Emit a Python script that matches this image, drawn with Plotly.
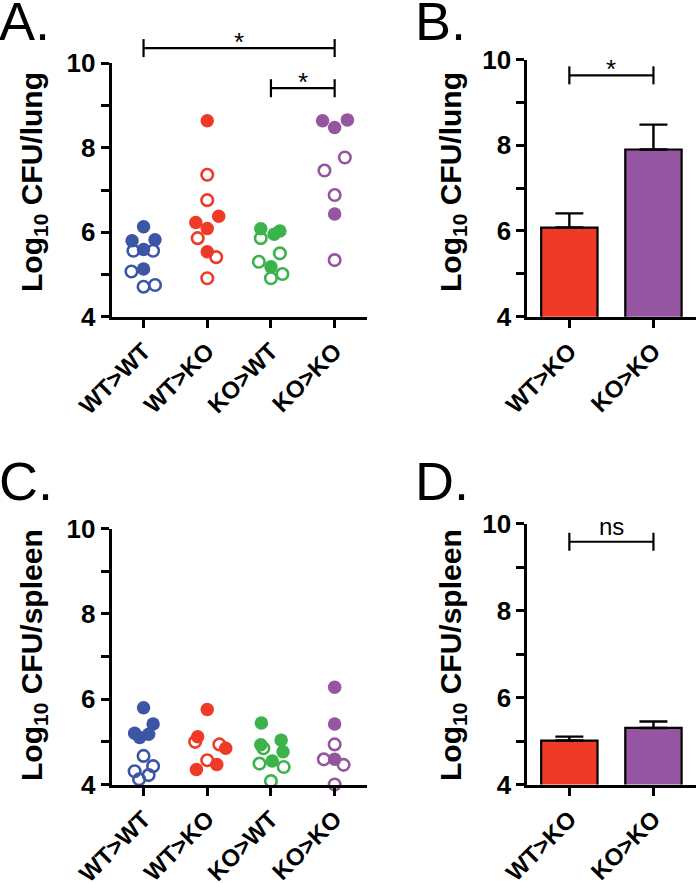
import plotly.graph_objects as go

W, H = 700, 883

# ---------------- data ----------------
groups = ["WT>WT", "WT>KO", "KO>WT", "KO>KO"]
bar_groups = ["WT>KO", "KO>KO"]

colors = {"WT>WT": "#3D55A5", "WT>KO": "#EE3A26", "KO>WT": "#3BB34A", "KO>KO": "#9655A0"}

# Panel A: lung CFU (log10), filled flag (1 = filled, 0 = open), horizontal spread in the dot column
lung_WTWT = [6.13, 5.80, 5.82, 5.59, 5.56, 5.56, 5.13, 5.07, 4.71, 4.75]
lung_WTWT_filled = [1, 1, 1, 1, 0, 0, 1, 0, 0, 0]
lung_WTWT_jit = [0.0, -0.18, 0.18, 0.0, -0.16, 0.15, 0.0, -0.19, 0.0, 0.18]

lung_WTKO = [8.64, 7.36, 6.76, 6.38, 6.23, 6.09, 5.86, 5.54, 5.41, 4.91]
lung_WTKO_filled = [1, 0, 0, 1, 1, 1, 0, 1, 0, 0]
lung_WTKO_jit = [0.0, 0.0, 0.0, 0.18, -0.18, 0.0, -0.15, 0.0, 0.14, 0.0]

lung_KOWT = [6.08, 6.03, 5.95, 5.86, 5.50, 5.30, 5.18, 5.01, 4.91]
lung_KOWT_filled = [1, 1, 1, 0, 0, 0, 1, 0, 0]
lung_KOWT_jit = [-0.16, 0.14, 0.05, -0.16, 0.14, -0.19, 0.0, 0.18, 0.0]

lung_KOKO = [8.64, 8.66, 8.48, 7.77, 7.46, 6.88, 6.43, 5.34]
lung_KOKO_filled = [1, 1, 1, 0, 0, 0, 1, 0]
lung_KOKO_jit = [-0.19, 0.20, 0.0, 0.16, -0.16, 0.0, 0.0, 0.0]

# Panel C: spleen CFU (log10)
spl_WTWT = [5.80, 5.42, 5.20, 5.18, 5.10, 4.67, 4.43, 4.31, 4.22, 4.12]
spl_WTWT_filled = [1, 1, 1, 1, 1, 0, 0, 0, 0, 0]
spl_WTWT_jit = [0.0, 0.15, -0.14, 0.08, -0.06, 0.0, 0.15, -0.14, 0.08, -0.07]

spl_WTKO = [5.76, 5.12, 5.00, 4.94, 4.85, 4.57, 4.47, 4.35]
spl_WTKO_filled = [1, 1, 0, 0, 1, 0, 1, 1]
spl_WTKO_jit = [0.0, -0.15, -0.19, 0.19, 0.29, 0.0, 0.15, -0.17]

spl_KOWT = [5.44, 5.04, 4.93, 4.85, 4.77, 4.55, 4.49, 4.41, 4.08]
spl_KOWT_filled = [1, 1, 1, 0, 1, 1, 0, 0, 0]
spl_KOWT_jit = [-0.15, 0.16, -0.16, -0.12, 0.19, 0.02, -0.18, 0.2, 0.0]

spl_KOKO = [6.28, 5.42, 4.94, 4.59, 4.59, 4.46, 4.00]
spl_KOKO_filled = [1, 1, 0, 0, 1, 0, 0]
spl_KOKO_jit = [0.0, 0.0, 0.0, -0.17, 0.0, 0.14, 0.0]

# Panel B / D: means and SEM
lung_mean = [6.08, 7.90]
lung_sem = [0.33, 0.58]
spl_mean = [5.01, 5.30]
spl_sem = [0.09, 0.15]

y_ticks = [4, 6, 8, 10]
y_minor_ticks = [5, 7, 9]

# significance brackets: (panel, from, to, level, label)
brackets = [
    ("A", 0, 3, 10.36, "*"),
    ("A", 2, 3, 9.41, "*"),
    ("B", 0, 1, 9.63, "*"),
    ("D", 0, 1, 9.58, "ns"),
]

# ---------------- layout geometry ----------------
def px_x(p):
    return p / W

def px_y(p):
    return 1 - p / H

dom = {
    "A": dict(x=[px_x(111.7), px_x(366.5)], y=[px_y(316.7), px_y(63.3)]),
    "B": dict(x=[px_x(527.3), px_x(695.5)], y=[px_y(316.7), px_y(59.5)]),
    "C": dict(x=[px_x(111.7), px_x(366.5)], y=[px_y(784.5), px_y(528.5)]),
    "D": dict(x=[px_x(527.3), px_x(695.5)], y=[px_y(784.5), px_y(523.5)]),
}
axid = {"A": ("x", "y"), "B": ("x2", "y2"), "C": ("x3", "y3"), "D": ("x4", "y4")}
xrng = {"A": [-0.5, 3.5], "B": [-0.5, 1.5], "C": [-0.5, 3.5], "D": [-0.5, 1.5]}

FONT = "Liberation Sans, Arial, Helvetica, sans-serif"

fig = go.Figure()

def dots(panel, series):
    xa, ya = axid[panel]
    for gi, (g, vals, filled, jit) in enumerate(series):
        xs = [gi + j for j in jit]
        open_x = [x for x, f in zip(xs, filled) if not f]
        open_y = [v for v, f in zip(vals, filled) if not f]
        fill_x = [x for x, f in zip(xs, filled) if f]
        fill_y = [v for v, f in zip(vals, filled) if f]
        fig.add_trace(go.Scatter(
            x=fill_x, y=fill_y, mode="markers", xaxis=xa, yaxis=ya,
            marker=dict(symbol="circle", size=13.5, color=colors[g], line=dict(width=0)),
            showlegend=False, cliponaxis=False))
        fig.add_trace(go.Scatter(
            x=open_x, y=open_y, mode="markers", xaxis=xa, yaxis=ya,
            marker=dict(symbol="circle-open", size=11.5, color=colors[g],
                        line=dict(width=2.6, color=colors[g])),
            showlegend=False, cliponaxis=False))

dots("A", [
    ("WT>WT", lung_WTWT, lung_WTWT_filled, lung_WTWT_jit),
    ("WT>KO", lung_WTKO, lung_WTKO_filled, lung_WTKO_jit),
    ("KO>WT", lung_KOWT, lung_KOWT_filled, lung_KOWT_jit),
    ("KO>KO", lung_KOKO, lung_KOKO_filled, lung_KOKO_jit),
])
dots("C", [
    ("WT>WT", spl_WTWT, spl_WTWT_filled, spl_WTWT_jit),
    ("WT>KO", spl_WTKO, spl_WTKO_filled, spl_WTKO_jit),
    ("KO>WT", spl_KOWT, spl_KOWT_filled, spl_KOWT_jit),
    ("KO>KO", spl_KOKO, spl_KOKO_filled, spl_KOKO_jit),
])

def bars(panel, means, sems):
    xa, ya = axid[panel]
    fig.add_trace(go.Bar(
        x=list(range(len(bar_groups))), y=means, xaxis=xa, yaxis=ya, width=0.67,
        marker=dict(color=[colors[g] for g in bar_groups], line=dict(color="black", width=2.2)),
        error_y=dict(type="data", symmetric=False, array=sems, arrayminus=[0] * len(sems),
                     color="black", thickness=2.4, width=14),
        showlegend=False))

bars("B", lung_mean, lung_sem)
bars("D", spl_mean, spl_sem)

layout = dict(
    width=W, height=H, margin=dict(l=0, r=0, t=0, b=0, pad=0, autoexpand=False),
    paper_bgcolor="white", plot_bgcolor="white",
    font=dict(family=FONT, color="black"),
    bargap=0.3,
)

for p in ["A", "B", "C", "D"]:
    xa, ya = axid[p]
    xkey = "xaxis" + xa[1:]
    ykey = "yaxis" + ya[1:]
    cats = groups if p in ("A", "C") else bar_groups
    layout[xkey] = dict(
        domain=dom[p]["x"], anchor=ya, range=xrng[p], automargin=False,
        tickmode="array", tickvals=list(range(len(cats))), ticktext=cats,
        tickangle=-45, showline=True, linewidth=3, linecolor="black",
        ticks="outside", ticklen=8, tickwidth=3, tickcolor="black",
        showgrid=False, zeroline=False, fixedrange=True,
        tickfont=dict(family=FONT, size=24, color="black", weight="bold"),
    )
    layout[ykey] = dict(
        domain=dom[p]["y"], anchor=xa, range=[4, 10], automargin=False,
        tickmode="array", tickvals=y_ticks,
        showline=True, linewidth=3, linecolor="black",
        ticks="outside", ticklen=8, tickwidth=3, tickcolor="black",
        minor=dict(tickmode="array", tickvals=y_minor_ticks, ticks="outside",
                   ticklen=8, tickwidth=3, tickcolor="black", showgrid=False),
        showgrid=False, zeroline=False, fixedrange=True,
        tickfont=dict(family=FONT, size=26, color="black", weight="bold"),
    )

fig.update_layout(**layout)

annotations = []
shapes = []

# panel letters
letters = {"A": (-3, -11), "B": (413, -11), "C": (-3, 449), "D": (413, 449)}
for k, (lx, ly) in letters.items():
    annotations.append(dict(text=k + ".", x=px_x(lx), y=px_y(ly), xref="paper", yref="paper",
                            xanchor="left", yanchor="top", showarrow=False,
                            font=dict(family=FONT, size=54, color="black")))

# y-axis titles (centre in px)
ytitles = {"A": "lung", "B": "lung", "C": "spleen", "D": "spleen"}
ytpos = {"A": (33, 182), "B": (452, 182), "C": (33, 655), "D": (452, 655)}
for p, organ in ytitles.items():
    tx, ty = ytpos[p]
    annotations.append(dict(text="<b>Log<sub>10</sub> CFU/" + organ + "</b>",
                            x=px_x(tx), y=px_y(ty), xref="paper", yref="paper",
                            xanchor="center", yanchor="middle", textangle=-90, showarrow=False,
                            font=dict(family=FONT, size=30, color="black")))

# significance brackets (in axis-domain units so they can sit above the axes)
for p, a, b, lvl, lab in brackets:
    xa, ya = axid[p]
    r0, r1 = xrng[p]
    fa = (a - r0) / (r1 - r0)
    fb = (b - r0) / (r1 - r0)
    fy = (lvl - 4) / 6
    dy = 9 / (H * (dom[p]["y"][1] - dom[p]["y"][0]))
    xr, yr = xa + " domain", ya + " domain"
    line = dict(color="black", width=2.2)
    shapes.append(dict(type="line", xref=xr, yref=yr, x0=fa, x1=fb, y0=fy, y1=fy, line=line))
    shapes.append(dict(type="line", xref=xr, yref=yr, x0=fa, x1=fa, y0=fy - dy, y1=fy + dy, line=line))
    shapes.append(dict(type="line", xref=xr, yref=yr, x0=fb, x1=fb, y0=fy - dy, y1=fy + dy, line=line))
    if lab == "*":
        annotations.append(dict(text="*", x=(fa + fb) / 2, y=fy, xref=xr, yref=yr,
                                xanchor="center", yanchor="bottom", yshift=-11, showarrow=False,
                                font=dict(family=FONT, size=26, color="black")))
    else:
        annotations.append(dict(text=lab, x=(fa + fb) / 2, y=fy, xref=xr, yref=yr,
                                xanchor="center", yanchor="bottom", yshift=0, showarrow=False,
                                font=dict(family=FONT, size=24, color="black")))

fig.update_layout(annotations=annotations, shapes=shapes)

fig.write_html("out.html", config={"displayModeBar": False},
               post_script="document.body.style.margin='0';document.body.style.overflow='hidden';")
